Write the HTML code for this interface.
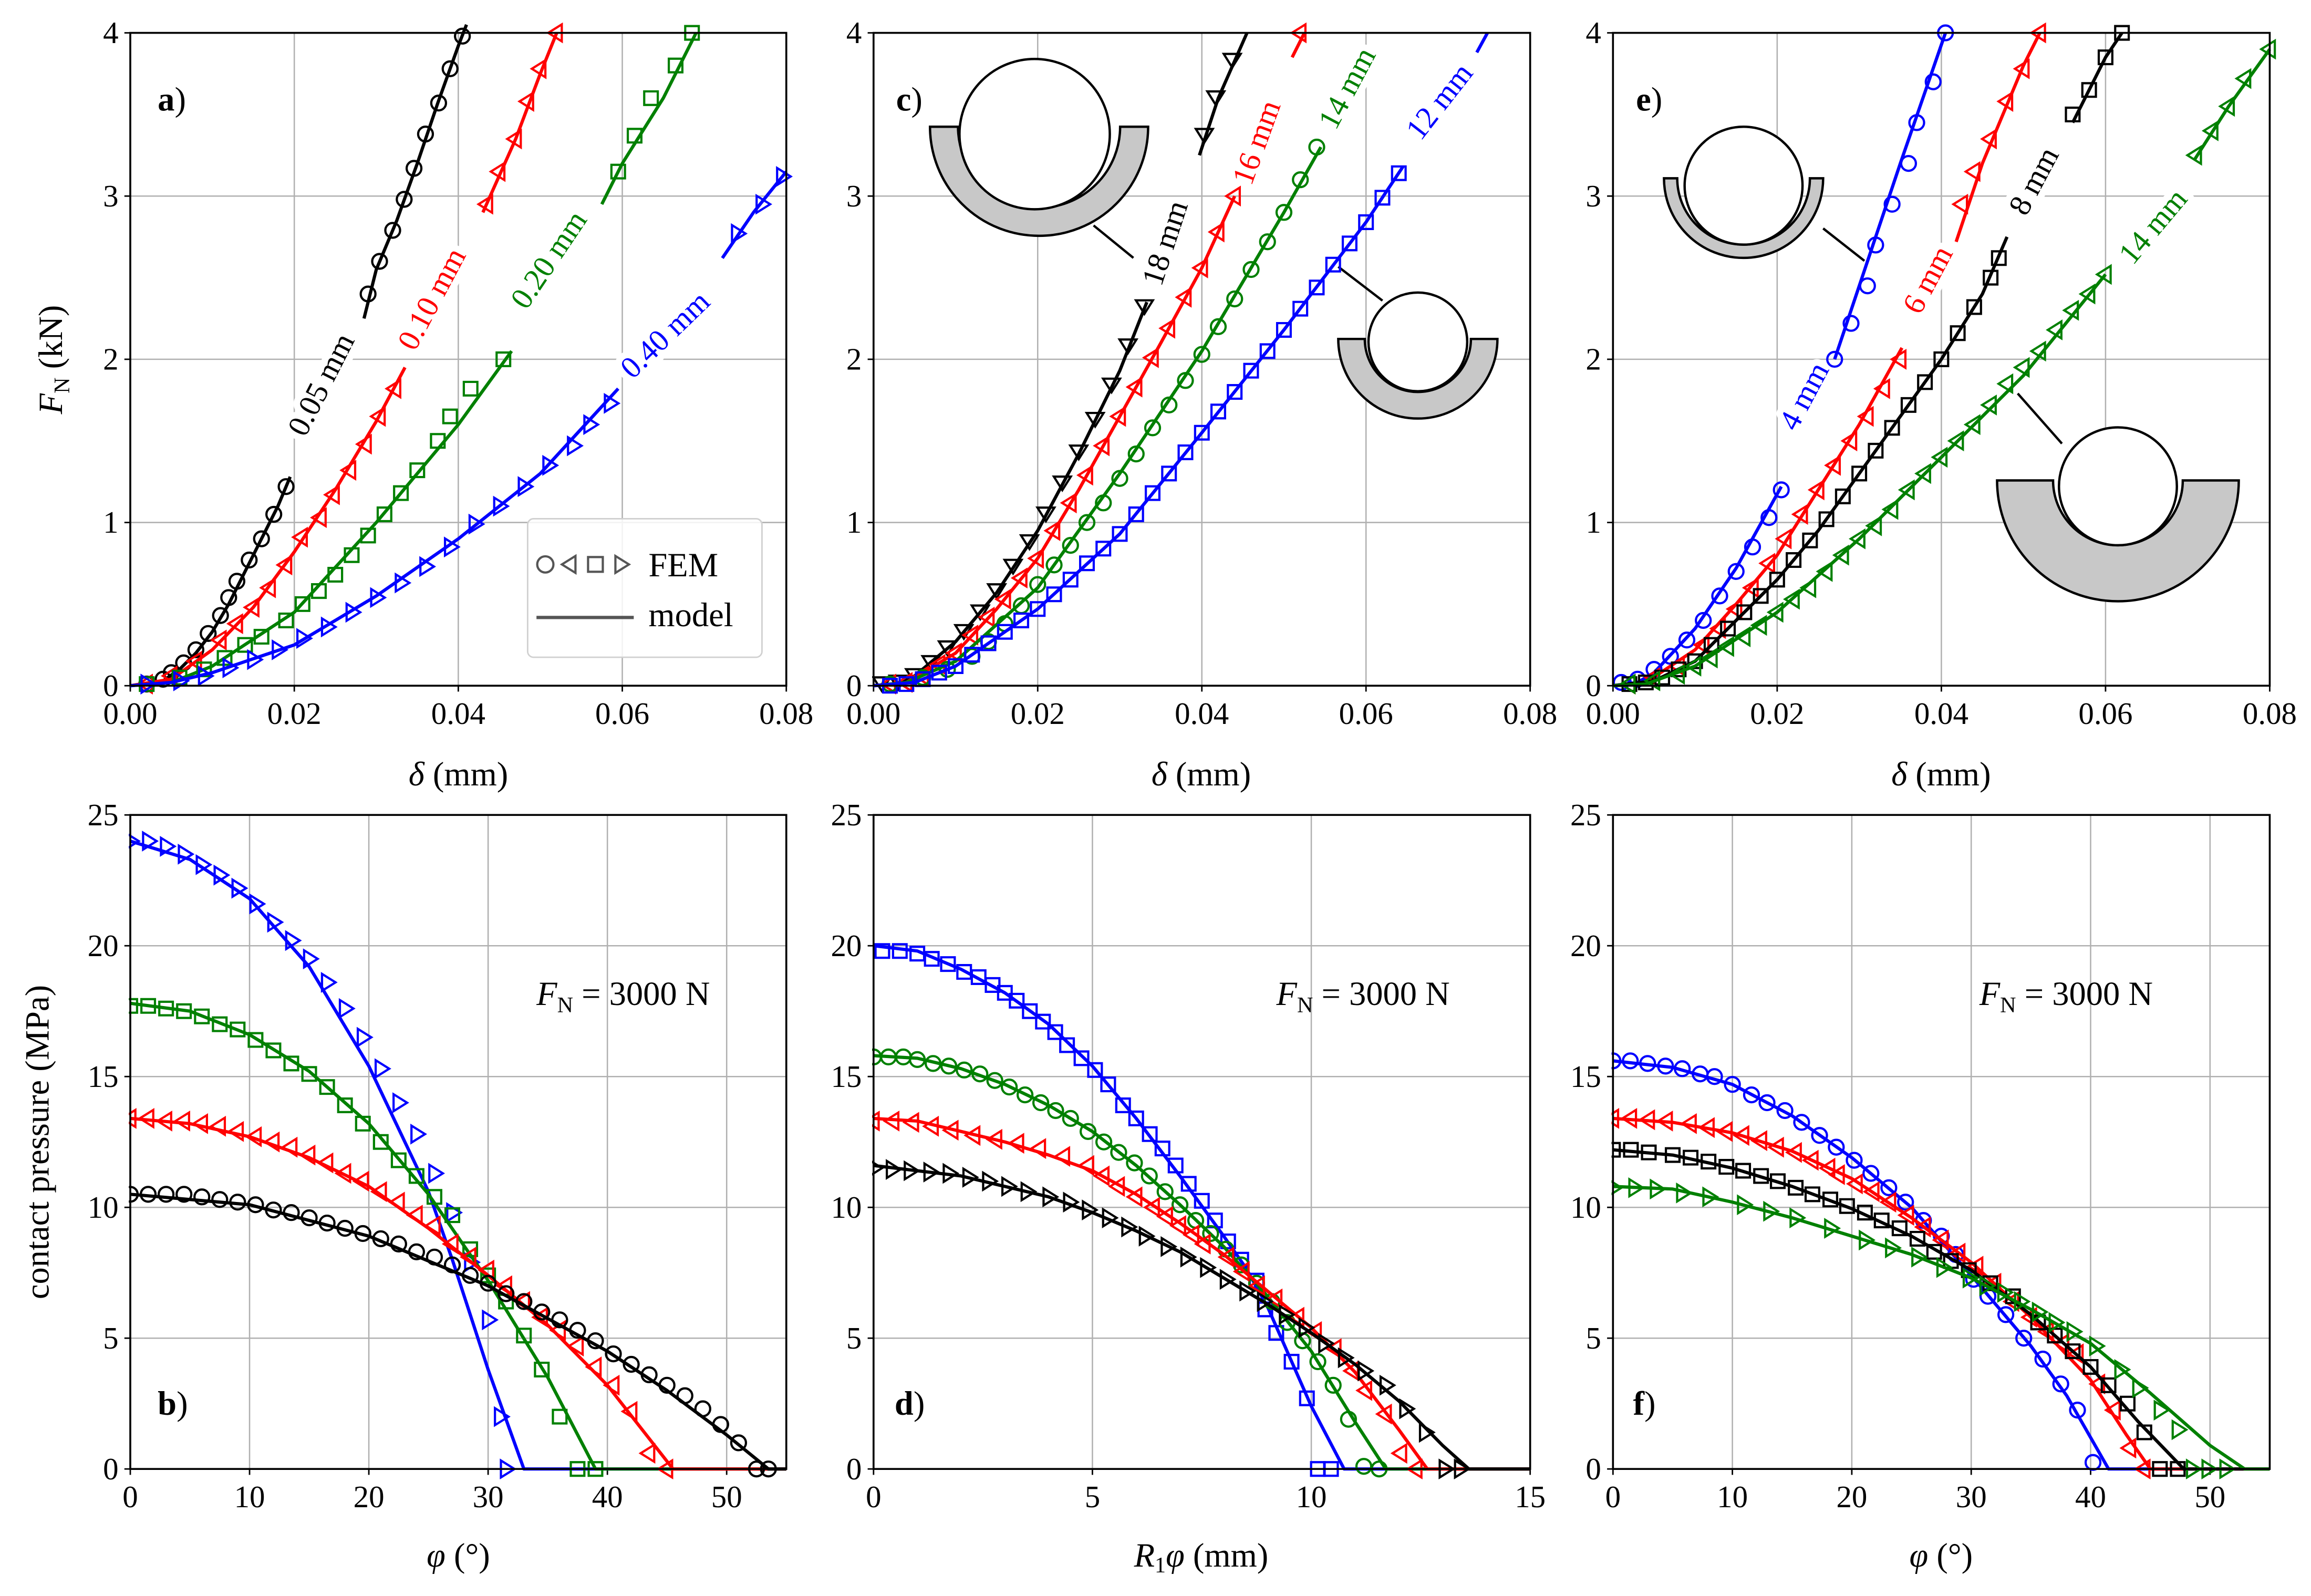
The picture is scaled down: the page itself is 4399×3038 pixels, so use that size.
<!DOCTYPE html>
<html><head><meta charset="utf-8"><style>
html,body{margin:0;padding:0;background:#fff}
svg{display:block}
text{font-family:"Liberation Serif",serif}
</style></head><body>
<svg id="fig" xmlns="http://www.w3.org/2000/svg" width="4399" height="3038" viewBox="0 0 1568 1083" preserveAspectRatio="none">
<rect x="0" y="0" width="1568" height="1083" fill="#fff"/>
</svg>
<script>
// ---------- DATA ----------
const topXTicks=[0,0.02,0.04,0.06,0.08];
const topXTickLabels=["0.00","0.02","0.04","0.06","0.08"];
const topYTicks=[0,1,2,3,4];
const botYTicks=[0,5,10,15,20,25];
const phiTicks=[0,10,20,30,40,50];
const rTicks=[0,5,10,15];

// panel a
const aBlackModel=[[0,0],[0.004,0.03],[0.006,0.1],[0.008,0.2],[0.01,0.33],[0.012,0.5],[0.014,0.7],[0.016,0.9],[0.018,1.1],[0.0195,1.28],null,[0.0285,2.25],[0.03,2.55],[0.0325,2.85],[0.035,3.2],[0.0375,3.57],[0.04,3.92],[0.041,4.05]];
const aBlackFem=[[0.002,0.01],[0.004,0.04],[0.005,0.08],[0.0065,0.14],[0.008,0.22],[0.0095,0.32],[0.011,0.43],[0.012,0.54],[0.013,0.64],[0.0145,0.77],[0.016,0.9],[0.0175,1.05],[0.019,1.22],[0.029,2.4],[0.0304,2.6],[0.032,2.79],[0.0334,2.98],[0.0346,3.17],[0.036,3.38],[0.0376,3.57],[0.039,3.78],[0.0405,3.98]];
const aRedModel=[[0,0],[0.005,0.04],[0.01,0.22],[0.015,0.48],[0.02,0.82],[0.025,1.2],[0.03,1.62],[0.0335,1.95],null,[0.043,2.9],[0.047,3.35],[0.05,3.75],[0.052,4]];
const aRedFem=[[0.002,0.01],[0.005,0.06],[0.008,0.15],[0.011,0.28],[0.013,0.38],[0.015,0.48],[0.017,0.6],[0.019,0.74],[0.0209,0.91],[0.0232,1.03],[0.0248,1.17],[0.0268,1.32],[0.0287,1.48],[0.0304,1.65],[0.0323,1.82],[0.0435,2.95],[0.045,3.15],[0.047,3.35],[0.0485,3.58],[0.050,3.78],[0.052,4.0]];
const aGreenModel=[[0,0],[0.005,0.02],[0.01,0.12],[0.02,0.45],[0.03,1.0],[0.04,1.6],[0.0465,2.05],null,[0.0575,2.95],[0.06,3.2],[0.065,3.6],[0.069,4]];
const aGreenFem=[[0.002,0.01],[0.006,0.05],[0.009,0.1],[0.0115,0.17],[0.014,0.25],[0.016,0.3],[0.019,0.4],[0.021,0.5],[0.023,0.58],[0.025,0.68],[0.027,0.8],[0.029,0.92],[0.031,1.05],[0.033,1.18],[0.035,1.32],[0.0375,1.5],[0.039,1.65],[0.0415,1.82],[0.0455,2.0],[0.0595,3.15],[0.0615,3.37],[0.0635,3.6],[0.0665,3.8],[0.0685,4.0]];
const aBlueModel=[[0,0],[0.005,0.02],[0.01,0.08],[0.02,0.25],[0.03,0.55],[0.04,0.9],[0.05,1.3],[0.0595,1.82],null,[0.0722,2.62],[0.076,2.9],[0.08,3.15]];
const aBlueFem=[[0.002,0.01],[0.006,0.03],[0.009,0.06],[0.012,0.11],[0.015,0.16],[0.018,0.22],[0.021,0.29],[0.024,0.36],[0.027,0.45],[0.030,0.54],[0.033,0.63],[0.036,0.73],[0.039,0.85],[0.042,0.99],[0.045,1.1],[0.048,1.22],[0.051,1.35],[0.054,1.47],[0.056,1.6],[0.0585,1.73],[0.074,2.77],[0.077,2.95],[0.0795,3.12]];

// panel c
const cBlackModel=[[0,0],[0.003,0.01],[0.005,0.06],[0.01,0.27],[0.015,0.57],[0.02,0.95],[0.025,1.42],[0.03,1.93],[0.0333,2.35],null,[0.0397,3.25],[0.042,3.6],[0.0455,4]];
const cBlackFem=[[0.001,0.02],[0.003,0.03],[0.005,0.07],[0.007,0.15],[0.009,0.24],[0.011,0.34],[0.013,0.46],[0.015,0.59],[0.017,0.74],[0.019,0.89],[0.021,1.06],[0.023,1.25],[0.025,1.44],[0.027,1.64],[0.029,1.85],[0.031,2.09],[0.033,2.33],[0.0403,3.38],[0.0417,3.61],[0.0437,3.84]];
const cRedModel=[[0,0],[0.004,0.02],[0.01,0.2],[0.015,0.47],[0.02,0.78],[0.025,1.2],[0.03,1.65],[0.035,2.1],[0.04,2.56],[0.044,3.0],null,[0.051,3.85],[0.0525,4]];
const cRedFem=[[0.002,0.01],[0.004,0.02],[0.006,0.06],[0.008,0.13],[0.010,0.2],[0.012,0.31],[0.014,0.42],[0.016,0.53],[0.018,0.66],[0.020,0.78],[0.022,0.95],[0.024,1.12],[0.026,1.29],[0.028,1.47],[0.030,1.65],[0.032,1.83],[0.034,2.01],[0.036,2.19],[0.038,2.38],[0.040,2.56],[0.042,2.78],[0.044,3.0],[0.052,4.0]];
const cGreenModel=[[0,0],[0.004,0.02],[0.01,0.15],[0.02,0.6],[0.03,1.3],[0.04,2.05],[0.05,2.9],[0.0545,3.3]];
const cGreenFem=[[0.002,0.01],[0.006,0.05],[0.009,0.1],[0.012,0.18],[0.014,0.27],[0.016,0.38],[0.018,0.49],[0.02,0.62],[0.022,0.74],[0.024,0.86],[0.026,1.0],[0.028,1.12],[0.030,1.27],[0.032,1.42],[0.034,1.58],[0.036,1.72],[0.038,1.87],[0.040,2.03],[0.042,2.2],[0.044,2.37],[0.046,2.55],[0.048,2.72],[0.050,2.9],[0.052,3.1],[0.054,3.3]];
const cBlueModel=[[0,0],[0.005,0.02],[0.01,0.12],[0.02,0.47],[0.03,0.93],[0.04,1.55],[0.05,2.18],[0.06,2.84],[0.0645,3.18],null,[0.0735,3.88],[0.0748,4]];
const cBlueFem=[[0.002,0.0],[0.004,0.01],[0.006,0.04],[0.008,0.08],[0.010,0.12],[0.012,0.19],[0.014,0.26],[0.016,0.33],[0.018,0.4],[0.020,0.47],[0.022,0.56],[0.024,0.65],[0.026,0.75],[0.028,0.84],[0.030,0.93],[0.032,1.05],[0.034,1.18],[0.036,1.3],[0.038,1.43],[0.040,1.55],[0.042,1.68],[0.044,1.8],[0.046,1.93],[0.048,2.05],[0.050,2.18],[0.052,2.31],[0.054,2.44],[0.056,2.58],[0.058,2.71],[0.060,2.84],[0.062,2.99],[0.064,3.14]];

// panel e
const eBlueModel=[[0,0],[0.003,0.02],[0.005,0.08],[0.01,0.35],[0.015,0.72],[0.0205,1.22],null,[0.027,2.0],[0.03,2.45],[0.035,3.2],[0.0405,4]];
const eBlueFem=[[0.001,0.02],[0.003,0.04],[0.005,0.1],[0.007,0.18],[0.009,0.28],[0.011,0.4],[0.013,0.55],[0.015,0.7],[0.017,0.85],[0.019,1.03],[0.0205,1.2],[0.027,2.0],[0.029,2.22],[0.031,2.45],[0.032,2.7],[0.034,2.95],[0.036,3.2],[0.037,3.45],[0.039,3.7],[0.0405,4.0]];
const eRedModel=[[0,0],[0.004,0.02],[0.01,0.22],[0.015,0.5],[0.02,0.8],[0.025,1.2],[0.03,1.6],[0.0352,2.07],null,[0.0418,2.72],[0.045,3.2],[0.05,3.8],[0.052,4]];
const eRedFem=[[0.002,0.01],[0.005,0.05],[0.008,0.12],[0.011,0.25],[0.013,0.35],[0.015,0.47],[0.017,0.6],[0.019,0.75],[0.021,0.9],[0.023,1.05],[0.025,1.2],[0.027,1.35],[0.029,1.5],[0.031,1.65],[0.033,1.82],[0.035,2.0],[0.0425,2.95],[0.044,3.15],[0.046,3.35],[0.048,3.58],[0.050,3.78],[0.052,4.0]];
const eBlackModel=[[0,0],[0.005,0.03],[0.01,0.15],[0.015,0.4],[0.02,0.65],[0.025,0.95],[0.03,1.3],[0.035,1.65],[0.04,2.0],[0.045,2.4],[0.048,2.75],null,[0.056,3.45],[0.06,3.85],[0.062,4]];
const eBlackFem=[[0.002,0.01],[0.004,0.02],[0.006,0.05],[0.008,0.1],[0.010,0.15],[0.012,0.25],[0.014,0.35],[0.016,0.45],[0.018,0.55],[0.020,0.65],[0.022,0.77],[0.024,0.89],[0.026,1.02],[0.028,1.16],[0.030,1.3],[0.032,1.44],[0.034,1.58],[0.036,1.72],[0.038,1.86],[0.040,2.0],[0.042,2.16],[0.044,2.32],[0.046,2.5],[0.047,2.62],[0.056,3.5],[0.058,3.65],[0.060,3.85],[0.062,4.0]];
const eGreenModel=[[0,0],[0.004,0.01],[0.01,0.12],[0.02,0.45],[0.03,0.9],[0.04,1.4],[0.05,1.9],[0.06,2.52],null,[0.0708,3.22],[0.075,3.55],[0.08,3.9]];
const eGreenFem=[[0.002,0.01],[0.005,0.03],[0.008,0.07],[0.010,0.12],[0.012,0.17],[0.014,0.24],[0.016,0.3],[0.018,0.37],[0.020,0.45],[0.022,0.53],[0.024,0.6],[0.026,0.7],[0.028,0.8],[0.030,0.9],[0.032,0.98],[0.034,1.08],[0.036,1.2],[0.038,1.3],[0.040,1.4],[0.042,1.5],[0.044,1.6],[0.046,1.72],[0.048,1.85],[0.050,1.95],[0.052,2.05],[0.054,2.18],[0.056,2.3],[0.058,2.4],[0.060,2.52],[0.071,3.25],[0.073,3.4],[0.075,3.55],[0.077,3.72],[0.080,3.9]];

// panel b
const bBlueModel=[[0,24],[5,23.3],[10,21.8],[15,19.2],[20,15.4],[25,10.6],[27,8],[30,3.8],[33,0],[55,0]];
const bBlueFem=[[0,24],[1.5,24],[3,23.8],[4.5,23.5],[6,23.1],[7.5,22.7],[9,22.2],[10.5,21.6],[12,20.9],[13.5,20.2],[15,19.5],[16.5,18.6],[18,17.6],[19.5,16.5],[21,15.3],[22.5,14],[24,12.8],[25.5,11.3],[27,9.8],[28.5,7.9],[30,5.7],[31,2],[31.5,0]];
const bGreenModel=[[0,17.8],[5,17.5],[10,16.6],[15,15.2],[20,13.2],[25,10.5],[30,7.2],[35,3.5],[39,0],[55,0]];
const bGreenFem=[[0,17.7],[1.5,17.7],[3,17.6],[4.5,17.5],[6,17.3],[7.5,17],[9,16.8],[10.5,16.4],[12,16],[13.5,15.5],[15,15.1],[16.5,14.6],[18,13.9],[19.5,13.2],[21,12.5],[22.5,11.8],[24,11.2],[25.5,10.4],[27,9.7],[28.5,8.4],[30,7.4],[31.5,6.4],[33,5.1],[34.5,3.8],[36,2],[37.5,0],[39,0]];
const bRedModel=[[0,13.4],[5,13.2],[10,12.7],[15,11.9],[20,10.8],[25,9.2],[30,7.4],[35,5.5],[40,3.2],[45.5,0],[55,0]];
const bRedFem=[[0,13.4],[1.5,13.4],[3,13.3],[4.5,13.3],[6,13.2],[7.5,13.1],[9,12.9],[10.5,12.7],[12,12.5],[13.5,12.3],[15,12],[16.5,11.7],[18,11.3],[19.5,11],[21,10.6],[22.5,10.2],[24,9.7],[25.5,9.3],[27,8.6],[28.5,8.1],[30,7.6],[31.5,7],[33,6.4],[34.5,5.8],[36,5.3],[37.5,4.7],[39,3.9],[40.5,3.2],[42,2.2],[43.5,0.6],[45,0]];
const bBlackModel=[[0,10.5],[10,10.1],[20,8.9],[30,7],[40,4.5],[45,3],[50,1.3],[53.5,0],[55,0]];
const bBlackFem=[[0,10.5],[1.5,10.5],[3,10.5],[4.5,10.5],[6,10.4],[7.5,10.3],[9,10.2],[10.5,10.1],[12,9.9],[13.5,9.8],[15,9.6],[16.5,9.4],[18,9.2],[19.5,9],[21,8.8],[22.5,8.6],[24,8.3],[25.5,8.1],[27,7.8],[28.5,7.4],[30,7.1],[31.5,6.7],[33,6.4],[34.5,6],[36,5.7],[37.5,5.3],[39,4.9],[40.5,4.4],[42,4],[43.5,3.6],[45,3.2],[46.5,2.8],[48,2.3],[49.5,1.7],[51,1],[52.5,0],[53.5,0]];

// panel d
const dBlueModel=[[0,20],[1,19.8],[2,19.1],[3,18.2],[4,17],[5,15.4],[6,13.4],[7,11.2],[8,8.9],[8.5,7.7],[9,6.2],[9.5,4.3],[10,2.4],[10.75,0],[15,0]];
const dBlueFem=[[0.2,19.8],[0.6,19.8],[1.0,19.7],[1.33,19.5],[1.7,19.3],[2.07,19.0],[2.4,18.8],[2.72,18.5],[3.0,18.2],[3.27,17.9],[3.57,17.5],[3.87,17.1],[4.15,16.7],[4.42,16.2],[4.75,15.7],[5.06,15.25],[5.36,14.7],[5.7,13.9],[6.0,13.4],[6.31,12.8],[6.6,12.25],[6.9,11.6],[7.2,10.9],[7.5,10.25],[7.8,9.5],[8.1,8.7],[8.4,8.0],[8.75,7.2],[8.95,6.1],[9.2,5.2],[9.55,4.1],[9.9,2.7],[10.15,0],[10.45,0]];
const dGreenModel=[[0,15.8],[1,15.7],[2,15.3],[3,14.7],[4,13.9],[5,12.9],[6,11.6],[7,10.1],[8,8.5],[9,6.6],[10,4.5],[11,1.8],[11.7,0],[15,0]];
const dGreenFem=[[0,15.75],[0.34,15.75],[0.68,15.75],[1.0,15.65],[1.36,15.5],[1.72,15.4],[2.07,15.25],[2.43,15.1],[2.77,14.85],[3.1,14.6],[3.46,14.3],[3.82,14.0],[4.16,13.7],[4.5,13.4],[4.9,12.9],[5.26,12.5],[5.6,12.1],[5.96,11.7],[6.3,11.2],[6.66,10.6],[7.0,10.1],[7.36,9.5],[7.7,9.0],[8.05,8.4],[8.4,7.8],[8.75,7.1],[9.1,6.4],[9.45,5.6],[9.8,4.9],[10.15,4.1],[10.5,3.2],[10.85,1.9],[11.2,0.1],[11.55,0]];
const dRedModel=[[0,13.4],[1,13.3],[2,12.9],[3,12.5],[4,12.0],[5,11.4],[6,10.5],[7,9.4],[8,8.2],[9,6.8],[10,5.4],[11,3.7],[12,1.5],[12.65,0],[15,0]];
const dRedFem=[[0,13.3],[0.45,13.3],[0.9,13.25],[1.35,13.1],[1.8,12.95],[2.3,12.75],[2.8,12.6],[3.3,12.45],[3.8,12.25],[4.35,11.95],[4.9,11.6],[5.25,11.2],[5.6,10.8],[6.0,10.4],[6.4,10.0],[6.7,9.65],[7.0,9.3],[7.3,8.95],[7.56,8.6],[8.1,8.1],[8.45,7.55],[8.8,7.0],[9.2,6.5],[9.7,5.8],[10.1,5.25],[10.55,4.6],[10.95,3.75],[11.25,3.0],[11.7,2.1],[12.05,0.6],[12.4,0]];
const dBlackModel=[[0,11.6],[1,11.4],[2,11.2],[3,10.8],[4,10.4],[5,9.8],[6,9.1],[7,8.3],[8,7.3],[9,6.3],[10,5.2],[11,4.0],[12,2.6],[13,0.9],[13.6,0],[15,0]];
const dBlackFem=[[0,11.5],[0.42,11.45],[0.83,11.4],[1.28,11.35],[1.72,11.3],[2.17,11.15],[2.62,11.0],[3.06,10.8],[3.5,10.6],[4.0,10.4],[4.47,10.2],[4.9,9.9],[5.36,9.6],[5.8,9.25],[6.2,8.9],[6.7,8.5],[7.15,8.1],[7.6,7.7],[8.05,7.25],[8.5,6.8],[8.9,6.4],[9.4,5.9],[9.85,5.4],[10.3,4.8],[10.75,4.25],[11.2,3.75],[11.7,3.2],[12.15,2.3],[12.6,1.4],[13.05,0],[13.4,0]];

// panel f
const fBlueModel=[[0,15.6],[5,15.35],[10,14.7],[15,13.5],[20,11.9],[25,10.0],[30,7.4],[35,4.7],[38,2.8],[41.5,0],[55,0]];
const fBlueFem=[[0,15.6],[1.45,15.6],[2.9,15.5],[4.4,15.4],[5.8,15.3],[7.3,15.1],[8.5,15.0],[10,14.7],[11.6,14.3],[12.9,14.0],[14.4,13.7],[15.8,13.25],[17.3,12.75],[18.7,12.3],[20.2,11.8],[21.6,11.3],[23.1,10.75],[24.5,10.2],[26,9.5],[27.5,8.9],[28.7,8.2],[30.2,7.25],[31.4,6.6],[32.9,5.9],[34.4,5.0],[36,4.2],[37.5,3.25],[38.9,2.25],[40.2,0.25]];
const fRedModel=[[0,13.4],[5,13.25],[10,12.85],[15,12.15],[20,11.1],[25,9.6],[30,7.9],[35,5.8],[40,3.4],[43,1.3],[45,0],[55,0]];
const fRedFem=[[0,13.4],[1.5,13.4],[3,13.35],[4.5,13.3],[6.5,13.2],[8,13.05],[9.5,12.9],[10.9,12.75],[12.4,12.55],[13.8,12.3],[15.3,12.1],[16.7,11.8],[18.1,11.5],[18.9,11.25],[20.4,10.9],[21.8,10.6],[23.2,10.2],[24.7,9.7],[26.1,9.25],[27.6,8.75],[29,8.25],[30.5,7.75],[32,7.1],[33.5,6.4],[35,5.8],[36.4,5.25],[37.7,4.8],[38.9,4.4],[40.7,3.25],[42,2.25],[43.3,0.8],[44.5,0]];
const fBlackModel=[[0,12.2],[5,12.0],[10,11.5],[15,10.8],[20,9.95],[25,8.9],[30,7.6],[35,5.9],[40,3.9],[44,1.8],[47.8,0],[55,0]];
const fBlackFem=[[0,12.2],[1.5,12.2],[3,12.1],[5,12.0],[6.5,11.9],[8,11.75],[9.5,11.55],[10.9,11.4],[12.4,11.2],[13.8,11.0],[15.3,10.75],[16.7,10.5],[18.2,10.3],[19.6,10.05],[21.1,9.8],[22.5,9.5],[24,9.2],[25.5,8.8],[26.9,8.3],[28.3,7.95],[29.8,7.6],[31.6,7.1],[33.5,6.6],[35.6,5.6],[37,5.1],[38.5,4.5],[40,3.9],[41.5,3.2],[43.1,2.5],[44.5,1.4],[45.8,0],[47.3,0]];
const fGreenModel=[[0,10.8],[5,10.7],[10,10.2],[15,9.6],[20,8.9],[25,8.2],[30,7.3],[35,6.1],[40,4.8],[45,2.9],[50,0.9],[52.9,0],[55,0]];
const fGreenFem=[[0,10.75],[1.8,10.75],[3.6,10.7],[5.8,10.55],[8,10.4],[10.9,10.1],[13.1,9.85],[15.3,9.6],[18.2,9.2],[21.1,8.75],[23.3,8.45],[25.5,8.1],[27.6,7.7],[29.8,7.3],[31.2,7.0],[32.7,6.75],[34.1,6.4],[35.6,6.0],[37,5.6],[38.5,5.25],[40.4,4.7],[42.5,3.8],[44,3.1],[45.8,2.25],[47.3,1.5],[48.5,0],[49.8,0],[51.3,0]];

// ---------- DRAWING ----------
const NS="http://www.w3.org/2000/svg";
const svg=document.getElementById('fig');
const COL={black:"#000",red:"#ff0000",green:"#008000",blue:"#0000ff"};
function mk(tag,attrs,parent){const e=document.createElementNS(NS,tag);for(const k in attrs)e.setAttribute(k,attrs[k]);(parent||svg).appendChild(e);return e;}

function makePanel(name,x0,x1,y0,y1,xmin,xmax,ymin,ymax){
  const g=mk('g',{});
  
  
  return {g,x0,x1,y0,y1,
    sx:v=>x0+(v-xmin)/(xmax-xmin)*(x1-x0),
    sy:v=>y1-(v-ymin)/(ymax-ymin)*(y1-y0)};
}
function axes(P,xt,xl,yt,yl){
  const gg=mk('g',{},P.g);
  
  
  xt.forEach((v,i)=>{const x=P.sx(v);
    const l=mk('line',{x1:x,x2:x,y1:P.y0,y2:P.y1,stroke:"#b0b0b0","stroke-width":0.9},gg);
    
    
    mk('line',{x1:x,x2:x,y1:P.y1,y2:P.y1+4,stroke:"#000","stroke-width":1},P.g);
    const tx=mk('text',{x:x,y:P.y1+26,"font-size":21,"text-anchor":"middle"},P.g);
    tx.textContent=xl[i];
    
    
  });
  yt.forEach((v,i)=>{const y=P.sy(v);
    const l=mk('line',{x1:P.x0,x2:P.x1,y1:y,y2:y,stroke:"#b0b0b0","stroke-width":0.9},gg);
    
    
    mk('line',{x1:P.x0-4,x2:P.x0,y1:y,y2:y,stroke:"#000","stroke-width":1},P.g);
    const tx=mk('text',{x:P.x0-8,y:y+7,"font-size":21,"text-anchor":"end"},P.g);
    tx.textContent=yl[i];
    
    
  });
}
function frame(P){
  const r=mk('rect',{x:P.x0,y:P.y0,width:P.x1-P.x0,height:P.y1-P.y0,fill:"none",stroke:"#000","stroke-width":1.3},P.g);
  
  
}
function clipFor(P,id){
  const d=mk('clipPath',{id:id},P.g);
  mk('rect',{x:P.x0-1,y:P.y0-7,width:P.x1-P.x0+8,height:P.y1-P.y0+14},d);
  return id;
}
function model(P,data,color,name,clip){
  let d="",start=true;
  data.forEach(p=>{if(p===null){start=true;return;}
    d+=(start?"M":"L")+P.sx(p[0]).toFixed(2)+","+P.sy(p[1]).toFixed(2);start=false;});
  const path=mk('path',{d:d,fill:"none",stroke:COL[color],"stroke-width":2.2,"stroke-linejoin":"round","clip-path":"url(#"+clip+")"},P.g);
  
  
}
function markerPath(type,x,y,s){
  if(type==='s')return `M${x-s},${y-s}H${x+s}V${y+s}H${x-s}Z`;
  const r=s*1.25;
  if(type==='<')return `M${x-r},${y}L${x+r*0.6},${y-r}L${x+r*0.6},${y+r}Z`;
  if(type==='>')return `M${x+r},${y}L${x-r*0.6},${y-r}L${x-r*0.6},${y+r}Z`;
  if(type==='v')return `M${x},${y+r}L${x-r},${y-r*0.6}L${x+r},${y-r*0.6}Z`;
}
function fem(P,data,color,type,name,clip){
  const g=mk('g',{"clip-path":"url(#"+clip+")"},P.g);
  
  
  data.forEach(p=>{const x=P.sx(p[0]),y=P.sy(p[1]);let m;
    if(type==='o')m=mk('circle',{cx:x,cy:y,r:5,fill:"none",stroke:COL[color],"stroke-width":1.5},g);
    else m=mk('path',{d:markerPath(type,x,y,4.6),fill:"none",stroke:COL[color],"stroke-width":1.5,"stroke-linejoin":"miter"},g);
    
    
  });
}
function label(P,text,x,y,rot,color,name,size){
  const t=mk('text',{x:x,y:y,"font-size":size||21,fill:COL[color]||color,"text-anchor":"middle",transform:`rotate(${rot} ${x} ${y})`,stroke:"#fff","stroke-width":9,"paint-order":"stroke","stroke-linejoin":"round"},P.g);
  t.textContent=text;
  
  
}
function panelLetter(P,l,x,y){
  const t=mk('text',{x:x,y:y,"font-size":23},P.g);
  const b=mk('tspan',{"font-weight":"bold"},t);b.textContent=l;
  const r=mk('tspan',{},t);r.textContent=")";
  
  
}
function inset(P,name,cx,cy,R,ri,c,cr,lx1,ly1,lx2,ly2){
  const g=mk('g',{},P.g);
  
  
  mk('path',{d:`M${cx-R},${cy}A${R},${R} 0 0 0 ${cx+R},${cy}H${cx+ri}A${ri},${ri} 0 0 1 ${cx-ri},${cy}Z`,fill:"#c8c8c8",stroke:"#000","stroke-width":1.6},g);
  mk('circle',{cx:c[0],cy:c[1],r:cr,fill:"#fff",stroke:"#000","stroke-width":1.6},g);
  mk('line',{x1:lx1,y1:ly1,x2:lx2,y2:ly2,stroke:"#000","stroke-width":1.6},g);
}
function fnText(P,x,y){
  const t=mk('text',{x:x,y:y,"font-size":23},P.g);
  const a=mk('tspan',{"font-style":"italic"},t);a.textContent="F";
  const b=mk('tspan',{"font-size":15,dy:5},t);b.textContent="N";
  const c=mk('tspan',{dy:-5},t);c.textContent=" = 3000 N";
  
  
}

const TX=[88.4,533.5],TC=[592.7,1038.2],TE=[1094.4,1540];
const TY=[22.3,465.3],BY=[553,996.8];

// ----- panel a -----
let P=makePanel('panel-a',TX[0],TX[1],TY[0],TY[1],0,0.08,0,4);
axes(P,topXTicks,topXTickLabels,topYTicks,topYTicks.map(String));
let cl=clipFor(P,'ca');
label(P,"0.05 mm",224,264,-63,'black','label-0.05mm');
label(P,"0.10 mm",299,206,-62,'red','label-0.10mm');
label(P,"0.20 mm",378,180,-56,'green','label-0.20mm');
label(P,"0.40 mm",456,232,-44,'blue','label-0.40mm');
model(P,aBlackModel,'black','model-0.05mm',cl);fem(P,aBlackFem,'black','o','fem-0.05mm',cl);
model(P,aRedModel,'red','model-0.10mm',cl);fem(P,aRedFem,'red','<','fem-0.10mm',cl);
model(P,aGreenModel,'green','model-0.20mm',cl);fem(P,aGreenFem,'green','s','fem-0.20mm',cl);
model(P,aBlueModel,'blue','model-0.40mm',cl);fem(P,aBlueFem,'blue','>','fem-0.40mm',cl);
frame(P);
panelLetter(P,'a',107,75);
(function(){
  const g=mk('g',{},P.g);
  
  
  mk('rect',{x:358,y:352,width:159,height:94,rx:4,fill:"#fff","fill-opacity":0.85,stroke:"#d0d0d0","stroke-width":1},g);
  const gc="#555";
  mk('circle',{cx:370,cy:383,r:5.5,fill:"none",stroke:gc,"stroke-width":1.5},g);
  mk('path',{d:markerPath('<',387,383,4.6),fill:"none",stroke:gc,"stroke-width":1.5},g);
  mk('path',{d:markerPath('s',404,383,5),fill:"none",stroke:gc,"stroke-width":1.5},g);
  mk('path',{d:markerPath('>',421,383,4.6),fill:"none",stroke:gc,"stroke-width":1.5},g);
  const t1=mk('text',{x:440,y:391,"font-size":23},g);t1.textContent="FEM";
  
  
  mk('line',{x1:364,x2:430,y1:419,y2:419,stroke:gc,"stroke-width":2.2},g);
  const t2=mk('text',{x:440,y:425,"font-size":23},g);t2.textContent="model";
  
  
})();

// ----- panel c -----
P=makePanel('panel-c',TC[0],TC[1],TY[0],TY[1],0,0.08,0,4);
axes(P,topXTicks,topXTickLabels,topYTicks,topYTicks.map(String));
cl=clipFor(P,'cc');
label(P,"18 mm",797,167,-72,'black','label-18mm');
label(P,"16 mm",859,99,-70,'red','label-16mm');
label(P,"14 mm",920,63,-62,'green','label-14mm');
label(P,"12 mm",982,73,-52,'blue','label-12mm');
inset(P,'inset-18mm',705,86,74,55,[702,91],51,742,153,769,175);
inset(P,'inset-12mm',962,230,54,36,[962,232],33.5,908,181,938,204);
model(P,cBlackModel,'black','model-18mm',cl);fem(P,cBlackFem,'black','v','fem-18mm',cl);
model(P,cRedModel,'red','model-16mm',cl);fem(P,cRedFem,'red','<','fem-16mm',cl);
model(P,cGreenModel,'green','model-14mm',cl);fem(P,cGreenFem,'green','o','fem-14mm',cl);
model(P,cBlueModel,'blue','model-12mm',cl);fem(P,cBlueFem,'blue','s','fem-12mm',cl);
frame(P);
panelLetter(P,'c',608,75);

// ----- panel e -----
P=makePanel('panel-e',TE[0],TE[1],TY[0],TY[1],0,0.08,0,4);
axes(P,topXTicks,topXTickLabels,topYTicks,topYTicks.map(String));
cl=clipFor(P,'ce');
label(P,"4 mm",1230,272,-62,'blue','label-4mm');
label(P,"6 mm",1314,193,-62,'red','label-6mm');
label(P,"8 mm",1386,126,-62,'black','label-8mm');
label(P,"14 mm",1466,158,-50,'green','label-14mm-e');
inset(P,'inset-4mm',1183,121,54,45,[1183,126],40,1237,155,1265,177);
inset(P,'inset-14mm',1437,326,82,44,[1437,330],40,1369,267,1399,301);
model(P,eBlueModel,'blue','model-4mm',cl);fem(P,eBlueFem,'blue','o','fem-4mm',cl);
model(P,eRedModel,'red','model-6mm',cl);fem(P,eRedFem,'red','<','fem-6mm',cl);
model(P,eBlackModel,'black','model-8mm',cl);fem(P,eBlackFem,'black','s','fem-8mm',cl);
model(P,eGreenModel,'green','model-14mm-e',cl);fem(P,eGreenFem,'green','<','fem-14mm-e',cl);
frame(P);
panelLetter(P,'e',1110,75);

// ----- panel b -----
P=makePanel('panel-b',TX[0],TX[1],BY[0],BY[1],0,55,0,25);
axes(P,phiTicks,phiTicks.map(String),botYTicks,botYTicks.map(String));
cl=clipFor(P,'cb');
model(P,bBlueModel,'blue','model-blue',cl);fem(P,bBlueFem,'blue','>','fem-blue',cl);
model(P,bGreenModel,'green','model-green',cl);fem(P,bGreenFem,'green','s','fem-green',cl);
model(P,bRedModel,'red','model-red',cl);fem(P,bRedFem,'red','<','fem-red',cl);
model(P,bBlackModel,'black','model-black',cl);fem(P,bBlackFem,'black','o','fem-black',cl);
frame(P);
panelLetter(P,'b',107,960);
fnText(P,364,682);

// ----- panel d -----
P=makePanel('panel-d',TC[0],TC[1],BY[0],BY[1],0,15,0,25);
axes(P,rTicks,rTicks.map(String),botYTicks,botYTicks.map(String));
cl=clipFor(P,'cd');
model(P,dBlueModel,'blue','model-blue-d',cl);fem(P,dBlueFem,'blue','s','fem-blue-d',cl);
model(P,dGreenModel,'green','model-green-d',cl);fem(P,dGreenFem,'green','o','fem-green-d',cl);
model(P,dRedModel,'red','model-red-d',cl);fem(P,dRedFem,'red','<','fem-red-d',cl);
model(P,dBlackModel,'black','model-black-d',cl);fem(P,dBlackFem,'black','>','fem-black-d',cl);
frame(P);
panelLetter(P,'d',607,960);
fnText(P,866,682);

// ----- panel f -----
P=makePanel('panel-f',TE[0],TE[1],BY[0],BY[1],0,55,0,25);
axes(P,phiTicks,phiTicks.map(String),botYTicks,botYTicks.map(String));
cl=clipFor(P,'cf');
model(P,fBlueModel,'blue','model-blue-f',cl);fem(P,fBlueFem,'blue','o','fem-blue-f',cl);
model(P,fRedModel,'red','model-red-f',cl);fem(P,fRedFem,'red','<','fem-red-f',cl);
model(P,fBlackModel,'black','model-black-f',cl);fem(P,fBlackFem,'black','s','fem-black-f',cl);
model(P,fGreenModel,'green','model-green-f',cl);fem(P,fGreenFem,'green','>','fem-green-f',cl);
frame(P);
panelLetter(P,'f',1108,960);
fnText(P,1343,682);

// ----- axis titles -----
function title(txt,x,y,rot,name,html){
  const t=mk('text',{x:x,y:y,"font-size":23,"text-anchor":"middle",transform:rot?`rotate(${rot} ${x} ${y})`:""});
  if(html){html(t);}else t.textContent=txt;
  
  
}
function deltaTitle(t){const a=mk('tspan',{"font-style":"italic"},t);a.textContent="δ";const b=mk('tspan',{},t);b.textContent=" (mm)";}
title("",311,533,0,'x-axis-title-a',deltaTitle);
title("",815,533,0,'x-axis-title-c',deltaTitle);
title("",1317,533,0,'x-axis-title-e',deltaTitle);
title("",42,244,-90,'y-axis-title-top',t=>{const a=mk('tspan',{"font-style":"italic"},t);a.textContent="F";const b=mk('tspan',{"font-size":15,dy:5},t);b.textContent="N";const c=mk('tspan',{dy:-5},t);c.textContent=" (kN)";});
title("contact pressure (MPa)",33,775,-90,'y-axis-title-bottom');
function phiTitle(t){const a=mk('tspan',{"font-style":"italic"},t);a.textContent="φ";const b=mk('tspan',{},t);b.textContent=" (°)";}
title("",311,1063,0,'x-axis-title-b',phiTitle);
title("",815,1063,0,'x-axis-title-d',t=>{const a=mk('tspan',{"font-style":"italic"},t);a.textContent="R";const b=mk('tspan',{"font-size":15,dy:4},t);b.textContent="1";const c=mk('tspan',{dy:-4,"font-style":"italic"},t);c.textContent="φ";const d=mk('tspan',{},t);d.textContent=" (mm)";});
title("",1317,1063,0,'x-axis-title-f',phiTitle);
</script>
</body></html>
